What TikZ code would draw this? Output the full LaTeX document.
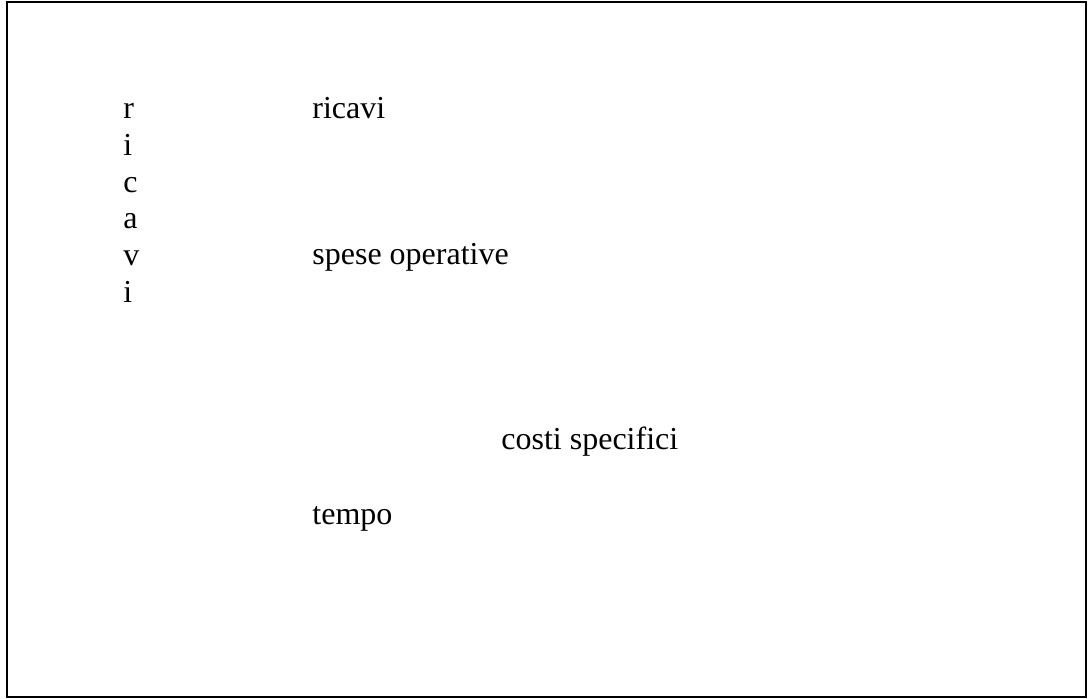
\documentclass[tikz,border=0pt]{standalone}
\usepackage{fontspec}
\setmainfont{Liberation Serif}
\begin{document}
\begin{tikzpicture}[x=0.5pt, y=-0.5pt,
    txt/.style={anchor=base west, inner sep=0pt, font=\fontsize{16}{18}\selectfont}]
    \useasboundingbox (0,0) rectangle (1090,699);
    % frame
    \draw[line width=1pt] (7,2) rectangle (1086,697);

    % vertical axis label
    \foreach \ch [count=\n] in {r,i,c,a,v,i}
        \node[txt] (axis\n) at (123,82+36.7*\n) {\ch};

    % curve labels
    \node[txt] (ricavi) at (312,119) {ricavi};
    \node[txt] (spese) at (312,265) {spese operative};
    \node[txt] (costi) at (501,449) {costi specifici};
    \node[txt] (tempo) at (312,524) {tempo};
\end{tikzpicture}
\end{document}
